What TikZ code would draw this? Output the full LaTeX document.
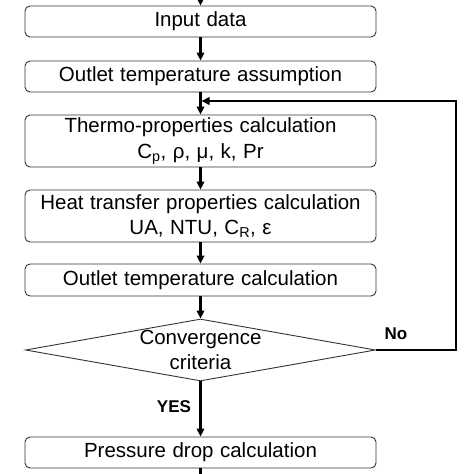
\documentclass[tikz,border=0pt]{standalone}
\usepackage{fontspec}
\setmainfont{Liberation Sans}
\usetikzlibrary{shapes.geometric,arrows.meta}
\newcommand\myboxfont{\fontsize{20.5}{25.5}\selectfont\spaceskip=6.5pt plus 2pt\relax}
\tikzset{
  stepbox/.style={draw=black!80, line width=0.9pt, rounded corners=5pt, minimum width=351pt, inner sep=0pt, align=center,
    font=\myboxfont},
  flow/.style={line width=2.2pt, -{Triangle[length=8pt,width=7.5pt]}},
  plain/.style={line width=2.2pt},
  lbl/.style={font=\fontsize{17}{19}\selectfont\bfseries, inner sep=0pt}
}
\begin{document}
\begin{tikzpicture}[x=1pt,y=-1pt]
\useasboundingbox (0,0) rectangle (474,474);
\node[stepbox, minimum height=31pt] (in) at (200.5,21.5) {Input data};
\node[stepbox, minimum height=31pt] (assume) at (200.5,76.5) {Outlet temperature assumption};
\node[stepbox, minimum height=52pt] (thermo) at (200.5,141) {Thermo-properties calculation\\C\textsubscript{p}, ρ, μ, k, Pr};
\node[stepbox, minimum height=52pt] (heat) at (200.5,216) {Heat transfer properties calculation\\UA, NTU, C\textsubscript{R}, ε};
\node[stepbox, minimum height=32pt] (outcalc) at (200.5,280) {Outlet temperature calculation};
\node[diamond, draw=black!80, line width=0.9pt, inner sep=0pt, minimum width=350pt, minimum height=62pt] (dia) at (200.5,350) {};
\node[align=center, inner sep=0pt, font=\myboxfont] (diatext) at (200.5,350) {Convergence\\criteria};
\node[stepbox, minimum height=31pt] (press) at (200.5,452.5) {Pressure drop calculation};
\node[lbl] (no) at (396,334) {No};
\node[lbl] (yes) at (174,407) {YES};
\coordinate (top) at (200.5,0);
\coordinate (bot) at (200.5,474);
\coordinate (join) at (201.5,101);
\coordinate (corner) at (456,350);
\draw[flow] (top) -- (in.north);
\draw[flow] (in.south) -- (assume.north);
\draw[flow] (assume.south) -- (thermo.north);
\draw[flow] (thermo.south) -- (heat.north);
\draw[flow] (heat.south) -- (outcalc.north);
\draw[flow] (outcalc.south) -- (dia.north);
\draw[flow] (dia.south) -- (press.north);
\draw[plain] (press.south) -- (bot);
\draw[flow] (dia.east) -- (corner) |- (join);
\end{tikzpicture}
\end{document}
